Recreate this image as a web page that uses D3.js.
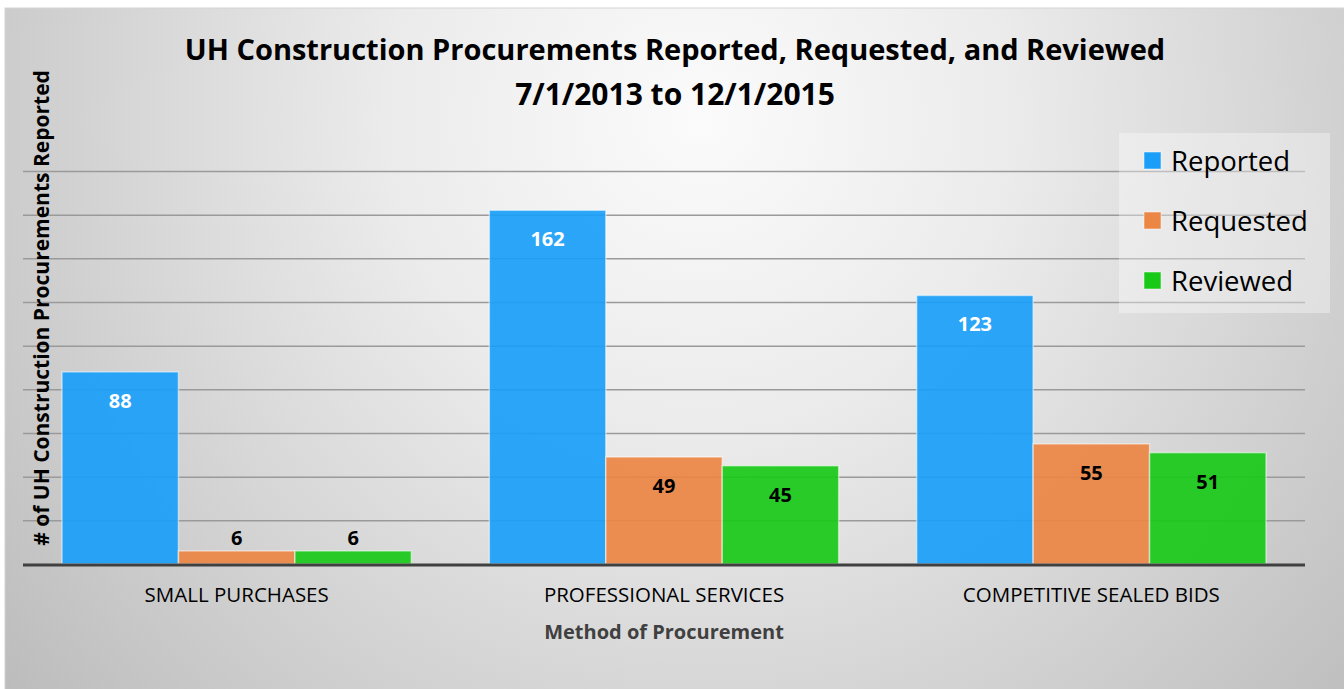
<html>
<head>
<style>
  body { margin: 0; background: #fff; }
  text { font-family: "Open Sans", "DejaVu Sans", sans-serif; }
</style>
</head>
<body>
<svg id="chart" width="1344" height="689"></svg>
<script src="https://cdn.jsdelivr.net/npm/d3@7"></script>
<script>
// data
const categories = ["SMALL PURCHASES", "PROFESSIONAL SERVICES", "COMPETITIVE SEALED BIDS"]
const seriesNames = ["Reported", "Requested", "Reviewed"]
const reported = [88, 162, 123]
const requested = [6, 49, 55]
const reviewed = [6, 45, 51]
const yTicks = [0, 20, 40, 60, 80, 100, 120, 140, 160, 180]

const colors = ["#1a9ef8", "#eb8644", "#18c918"]
const values = [reported, requested, reviewed]

let svg = d3.select("#chart")

// background
let defs = svg.append("defs")
let grad = defs.append("radialGradient").attr("id", "bg")
  .attr("gradientUnits", "userSpaceOnUse")
  .attr("cx", 700).attr("cy", 120).attr("r", 900)
grad.append("stop").attr("offset", 0).attr("stop-color", "#fbfbfb")
grad.append("stop").attr("offset", 0.35).attr("stop-color", "#ebebeb")
grad.append("stop").attr("offset", 1).attr("stop-color", "#bcbcbc")

svg.append("rect")
  .attr("x", 5).attr("y", 8).attr("width", 1345).attr("height", 690)
  .attr("fill", "url(#bg)").attr("stroke", "#d4d4d4")

let plotLeft = 23, plotRight = 1305, base = 564, plotTop = 171

let x0 = d3.scaleBand().domain(categories).range([plotLeft, plotRight])
let x1 = d3.scaleBand().domain(seriesNames).range([39, x0.bandwidth() - 39])
let y = d3.scaleLinear().domain([0, 180]).range([base, plotTop])

// gridlines
let grid = svg.append("g").attr("transform", `translate(${plotLeft},0)`)
  .call(d3.axisLeft(y).tickValues(yTicks.slice(1)).tickSize(-(plotRight - plotLeft)).tickFormat(""))
grid.select(".domain").remove()
grid.selectAll("line").attr("stroke", "#9a9a9a").attr("stroke-width", 1.5)

// bars
let rows = categories.map((c, i) => seriesNames.map((s, j) => ({cat: c, name: s, value: values[j][i], idx: j})))

let groups = svg.selectAll("g.cat").data(rows).enter().append("g")
  .attr("class", "cat")
  .attr("transform", (d, i) => `translate(${x0(categories[i])},0)`)

groups.selectAll("rect").data(d => d).enter().append("rect")
  .attr("x", d => x1(d.name))
  .attr("y", d => y(d.value))
  .attr("width", x1.bandwidth())
  .attr("height", d => base - y(d.value))
  .attr("fill", d => colors[d.idx])
  .attr("fill-opacity", 0.92)
  .attr("stroke", "#ffffff")
  .attr("stroke-opacity", 0.5)
  .attr("stroke-width", 1.5)

groups.selectAll("text").data(d => d).enter().append("text")
  .attr("x", d => x1(d.name) + x1.bandwidth() / 2)
  .attr("y", d => (base - y(d.value) > 40) ? y(d.value) + 36 : y(d.value) - 6)
  .attr("text-anchor", "middle")
  .attr("font-size", 20)
  .attr("font-weight", "bold")
  .attr("fill", d => d.idx === 0 ? "#ffffff" : "#000000")
  .text(d => d.value)

// baseline
svg.append("line")
  .attr("x1", plotLeft).attr("x2", plotRight).attr("y1", base + 1).attr("y2", base + 1)
  .attr("stroke", "#404040").attr("stroke-width", 3)

// category labels
let xAxis = svg.append("g").attr("transform", `translate(0,${base})`)
  .call(d3.axisBottom(x0).tickSize(0).tickPadding(23))
xAxis.select(".domain").remove()
xAxis.selectAll("text")
  .attr("font-size", 20.5)
  .attr("fill", "#000")
  .style("font-family", "'Open Sans', sans-serif")

// axis titles
svg.append("text")
  .attr("x", 664).attr("y", 639)
  .attr("text-anchor", "middle")
  .attr("font-size", 20).attr("font-weight", "bold").attr("fill", "#404040")
  .text("Method of Procurement")

svg.append("text")
  .attr("transform", "translate(49,308) rotate(-90)")
  .attr("text-anchor", "middle")
  .attr("font-size", 21).attr("font-weight", "bold").attr("fill", "#000")
  .text("# of UH Construction Procurements Reported")

// title
svg.append("text")
  .attr("x", 675).attr("y", 60)
  .attr("text-anchor", "middle")
  .attr("font-size", 29).attr("font-weight", "bold").attr("fill", "#000")
  .text("UH Construction Procurements Reported, Requested, and Reviewed")
svg.append("text")
  .attr("x", 675).attr("y", 105)
  .attr("text-anchor", "middle")
  .attr("font-size", 30).attr("font-weight", "bold").attr("fill", "#000")
  .text("7/1/2013 to 12/1/2015")

// legend
let legend = svg.append("g")
legend.append("rect")
  .attr("x", 1119).attr("y", 133).attr("width", 211).attr("height", 180)
  .attr("fill", "#ffffff").attr("fill-opacity", 0.35)

let items = legend.selectAll("g.item").data(seriesNames).enter().append("g")
  .attr("transform", (d, i) => `translate(1144,${161 + i * 60})`)
items.append("rect")
  .attr("x", 0).attr("y", -9).attr("width", 17).attr("height", 17)
  .attr("fill", (d, i) => colors[i])
  .attr("stroke", "#fff").attr("stroke-opacity", 0.5)
items.append("text")
  .attr("x", 27).attr("y", 10)
  .attr("font-size", 27.5).attr("fill", "#000")
  .text(d => d)
</script>
</body>
</html>
